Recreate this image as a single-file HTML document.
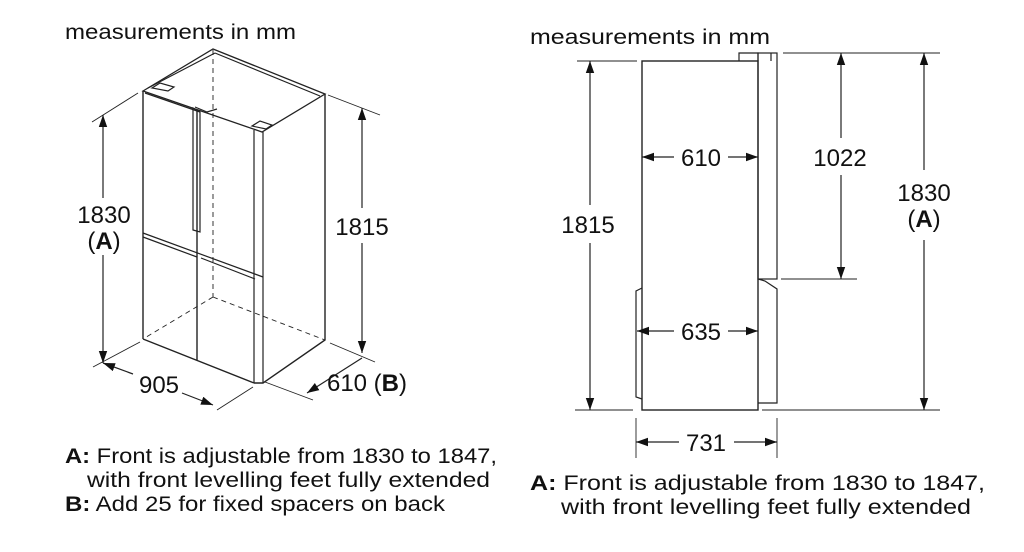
<!DOCTYPE html>
<html><head><style>
html,body{margin:0;padding:0;background:#fff;}
svg{display:block;}
text{font-family:"Liberation Sans",Arial,sans-serif;fill:#111;}
</style></head><body>
<svg width="1024" height="552" viewBox="0 0 1024 552" xmlns="http://www.w3.org/2000/svg">
<defs>
<marker id="ar" viewBox="0 0 10 10" refX="10" refY="5" markerWidth="12" markerHeight="12" markerUnits="userSpaceOnUse" orient="auto-start-reverse">
<path d="M0,1.5 L10,5 L0,8.5 z" fill="#111"/>
</marker>
</defs>
<g stroke="#222" fill="none" stroke-width="1.2">
<g stroke-dasharray="5,4" stroke-width="0.9">
<line x1="213" y1="50" x2="213" y2="297"/>
<line x1="213" y1="297" x2="143" y2="339"/>
<line x1="213" y1="297" x2="325" y2="340"/>
</g>
<polygon points="143,91 213,49 325,94 262,132" stroke-width="1.3"/>
<line x1="148" y1="88" x2="215" y2="53"/>
<line x1="215" y1="53" x2="320" y2="96"/>
<path d="M152,88 l8,-5 l14,4 l-6,4 z"/>
<path d="M252,126 l8,-5 l12,4 l-6,4 z"/>
<path d="M195,107 l12,5 l10,-3"/>
<line x1="143" y1="91" x2="143" y2="339" stroke-width="1.4"/>
<line x1="143" y1="339" x2="254" y2="383" stroke-width="1.4"/>
<polyline points="254,383 263,383 325,340 325,94" stroke-width="1.4"/>
<line x1="254" y1="130" x2="254" y2="383"/>
<line x1="263" y1="132" x2="263" y2="383"/>
<line x1="197" y1="110" x2="197" y2="360" stroke-width="1.4"/>
<path d="M193,108 L193,230 L200,232 L200,112 z"/>
<line x1="143" y1="233" x2="263" y2="277"/>
<line x1="143" y1="237" x2="197" y2="257"/>
<line x1="201" y1="258" x2="255" y2="279"/>
<line x1="145" y1="93" x2="200" y2="112"/>
<g stroke-width="0.9">
<line x1="92" y1="122" x2="138" y2="93"/>
<line x1="93" y1="367" x2="140" y2="342"/>
<line x1="328" y1="95" x2="380" y2="115"/>
<line x1="330" y1="343" x2="375" y2="362"/>
<line x1="253" y1="387" x2="217" y2="410"/>
<line x1="265" y1="382" x2="313" y2="400"/>
</g>
<line x1="103" y1="115" x2="103" y2="198" marker-start="url(#ar)"/>
<line x1="103" y1="255" x2="103" y2="363" marker-end="url(#ar)"/>
<line x1="362" y1="108" x2="362" y2="208" marker-start="url(#ar)"/>
<line x1="362" y1="243" x2="362" y2="353" marker-end="url(#ar)"/>
<line x1="103" y1="363" x2="133" y2="374" marker-start="url(#ar)"/>
<line x1="182" y1="393" x2="213" y2="405" marker-end="url(#ar)"/>
<line x1="307" y1="393" x2="362" y2="358" marker-start="url(#ar)"/>

<rect x="642" y="61" width="116" height="349" stroke-width="1.4"/>
<polyline points="758,61 758,53 739,53 739,61"/>
<rect x="758" y="53" width="19" height="226"/>
<line x1="771" y1="53" x2="771" y2="61"/>
<path d="M758,279 L765,281 L777,289 L777,403 L758,403"/>
<path d="M642,288 L636,291 L636,397 L642,399"/>
<g stroke-width="0.9">
<line x1="577" y1="61" x2="637" y2="61"/>
<line x1="575" y1="410" x2="633" y2="410"/>
<line x1="783" y1="53" x2="940" y2="53"/>
<line x1="781" y1="279" x2="857" y2="279"/>
<line x1="762" y1="410" x2="940" y2="410"/>
<line x1="636" y1="418" x2="636" y2="458"/>
<line x1="777" y1="418" x2="777" y2="458"/>
</g>
<line x1="590" y1="61" x2="590" y2="205" marker-start="url(#ar)"/>
<line x1="590" y1="243" x2="590" y2="410" marker-end="url(#ar)"/>
<line x1="841" y1="53" x2="841" y2="138" marker-start="url(#ar)"/>
<line x1="841" y1="175" x2="841" y2="279" marker-end="url(#ar)"/>
<line x1="924" y1="53" x2="924" y2="170" marker-start="url(#ar)"/>
<line x1="924" y1="240" x2="924" y2="410" marker-end="url(#ar)"/>
<line x1="642" y1="157" x2="674" y2="157" marker-start="url(#ar)"/>
<line x1="728" y1="157" x2="758" y2="157" marker-end="url(#ar)"/>
<line x1="637" y1="331" x2="674" y2="331" marker-start="url(#ar)"/>
<line x1="728" y1="331" x2="758" y2="331" marker-end="url(#ar)"/>
<line x1="636" y1="442" x2="679" y2="442" marker-start="url(#ar)"/>
<line x1="734" y1="442" x2="777" y2="442" marker-end="url(#ar)"/>
</g>

<g font-size="21">
<text x="65" y="39" textLength="231" lengthAdjust="spacingAndGlyphs">measurements in mm</text>
<text x="530" y="44" textLength="240" lengthAdjust="spacingAndGlyphs">measurements in mm</text>
</g>
<g font-size="24" text-anchor="middle">
<text x="104" y="223">1830</text>
<text x="104" y="249">(<tspan font-weight="bold">A</tspan>)</text>
<text x="362" y="235">1815</text>
<text x="159" y="393">905</text>
<text x="367" y="391">610 (<tspan font-weight="bold">B</tspan>)</text>
<text x="588" y="233">1815</text>
<text x="701" y="166">610</text>
<text x="701" y="340">635</text>
<text x="840" y="166">1022</text>
<text x="924" y="201">1830</text>
<text x="924" y="227">(<tspan font-weight="bold">A</tspan>)</text>
<text x="706" y="451">731</text>
</g>
<g font-size="21">
<text x="65" y="463" textLength="432" lengthAdjust="spacingAndGlyphs"><tspan font-weight="bold">A:</tspan> Front is adjustable from 1830 to 1847,</text>
<text x="87" y="487" textLength="403" lengthAdjust="spacingAndGlyphs">with front levelling feet fully extended</text>
<text x="65" y="511" textLength="380" lengthAdjust="spacingAndGlyphs"><tspan font-weight="bold">B:</tspan> Add 25 for fixed spacers on back</text>
<text x="530" y="490" textLength="455" lengthAdjust="spacingAndGlyphs"><tspan font-weight="bold">A:</tspan> Front is adjustable from 1830 to 1847,</text>
<text x="561" y="514" textLength="410" lengthAdjust="spacingAndGlyphs">with front levelling feet fully extended</text>
</g>
</svg>
</body></html>
